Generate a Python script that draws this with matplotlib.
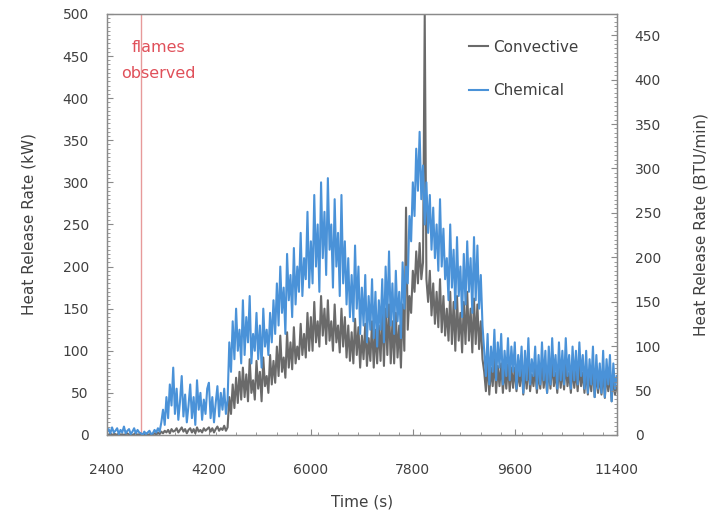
import numpy as np
import matplotlib.pyplot as plt
from matplotlib.ticker import MultipleLocator

plt.rcParams['font.family'] = ['DejaVu Sans']

# sampling grid, one reading every 30 s
time_s = np.arange(2400, 11401, 30)

# chemical heat release rate (kW), 20 readings per row
chemical = [
    4, 7, 2, 9, 3, 5, 8, 1, 6, 3, 10, 2, 5, 7, 1, 4, 8, 2, 6, 3,
    2, 0, 4, 1, 3, 5, 1, 2, 6, 3, 8, 4, 15, 30, 12, 45, 20, 60, 35, 80,
    25, 55, 18, 40, 70, 22, 48, 15, 35, 60, 20, 45, 12, 65, 30, 50, 18, 42, 25, 55,
    62, 20, 45, 15, 38, 58, 22, 50, 30, 55, 25, 42, 110, 75, 135, 90, 150, 100, 125, 85,
    160, 95, 140, 110, 165, 85, 120, 100, 145, 90, 130, 80, 150, 105, 125, 95, 145, 110, 160, 120,
    180, 130, 200, 145, 175, 120, 215, 160, 190, 140, 222, 155, 200, 170, 240, 165, 210, 185, 265, 175,
    230, 180, 285, 200, 250, 170, 300, 210, 265, 190, 305, 220, 250, 175, 280, 200, 240, 165, 285, 180,
    230, 155, 210, 140, 190, 135, 225, 150, 200, 120, 175, 130, 190, 110, 165, 125, 185, 115, 170, 105,
    160, 125, 185, 110, 200, 140, 218, 130, 180, 120, 195, 135, 170, 115, 205, 150, 200, 180, 260, 230,
    300, 260, 340, 290, 360, 280, 320, 250, 300, 240, 285, 220, 270, 210, 250, 195, 280, 200, 245, 185,
    210, 160, 250, 175, 220, 150, 235, 165, 200, 140, 215, 155, 230, 170, 210, 145, 235, 160, 225, 150,
    190, 130, 100, 70, 120, 60, 105, 75, 125, 65, 110, 80, 120, 60, 100, 70, 115, 65, 105, 75,
    110, 55, 95, 70, 105, 50, 100, 65, 115, 60, 90, 70, 105, 55, 95, 60, 110, 65, 100, 50,
    105, 60, 115, 70, 95, 55, 110, 65, 100, 60, 115, 70, 95, 55, 105, 65, 100, 60, 110, 70,
    95, 55, 100, 50, 90, 60, 105, 45, 95, 55, 85, 50, 100, 45, 90, 60, 95, 40, 85, 55,
    70,
]

# convective heat release rate (kW), 20 readings per row
convective = [
    1, 0, 2, 0, 1, 1, 0, 2, 0, 1, 0, 1, 2, 0, 1, 0, 1, 2, 0, 1,
    0, 1, 0, 2, 0, 1, 0, 1, 2, 0, 3, 1, 4, 2, 5, 3, 6, 2, 7, 4,
    5, 8, 3, 6, 9, 4, 7, 2, 6, 8, 3, 7, 2, 9, 4, 6, 3, 8, 5, 7,
    9, 4, 8, 3, 7, 10, 5, 8, 6, 11, 5, 9, 45, 25, 60, 32, 68, 38, 75, 42,
    80, 45, 72, 40, 90, 50, 65, 42, 88, 55, 75, 40, 92, 58, 70, 50, 95, 60, 88, 62,
    105, 70, 118, 75, 92, 68, 122, 80, 110, 78, 128, 85, 105, 90, 132, 95, 120, 92, 145, 100,
    140, 100, 158, 110, 135, 105, 165, 118, 150, 108, 160, 112, 135, 100, 155, 110, 130, 98, 150, 105,
    140, 92, 130, 88, 122, 85, 138, 95, 128, 80, 118, 90, 132, 82, 115, 88, 135, 80, 125, 85,
    130, 88, 148, 82, 150, 95, 155, 85, 135, 85, 145, 92, 130, 80, 155, 100, 270, 125, 165, 145,
    195, 170, 218, 180, 228, 185, 205, 500, 185, 158, 195, 142, 180, 132, 170, 128, 185, 122, 165, 118,
    150, 112, 170, 108, 158, 100, 165, 112, 145, 98, 158, 108, 170, 112, 150, 98, 162, 108, 155, 102,
    135, 90, 75, 52, 88, 48, 80, 58, 90, 50, 82, 58, 85, 50, 78, 55, 84, 52, 80, 56,
    80, 52, 75, 58, 82, 48, 78, 55, 85, 52, 72, 58, 80, 50, 75, 55, 84, 56, 76, 50,
    80, 55, 86, 58, 74, 50, 82, 56, 78, 54, 85, 58, 74, 50, 80, 56, 76, 52, 82, 58,
    74, 50, 78, 48, 72, 52, 80, 45, 74, 50, 70, 48, 76, 44, 72, 52, 74, 40, 70, 48,
    58,
]

flame_time = 3000
kw_to_btu = 0.9478

blue = '#4a92d8'
grey = '#6a6a6a'
red = '#e0505a'
text_col = '#404040'

fig = plt.figure(figsize=(7.13, 5.16), dpi=100)
ax = fig.add_axes([0.150, 0.157, 0.715, 0.816])

ax.axvline(flame_time, color='#e79a9a', lw=1.0, zorder=1)
ax.plot(time_s, convective, color=grey, lw=1.5, label='Convective', zorder=2)
ax.plot(time_s, chemical, color=blue, lw=1.5, label='Chemical', zorder=3)
ax.text(3310, 469, 'flames\nobserved', color=red, fontsize=11.5,
        ha='center', va='top', linespacing=1.9)

ax.set_xlim(2400, 11400)
ax.set_ylim(0, 500)
ax.set_xticks(np.arange(2400, 11401, 1800))
ax.set_yticks(np.arange(0, 501, 50))
ax.xaxis.set_minor_locator(MultipleLocator(360))
ax.yaxis.set_minor_locator(MultipleLocator(5))
ax.set_xlabel('Time (s)', fontsize=11, color=text_col, labelpad=13)
ax.set_ylabel('Heat Release Rate (kW)', fontsize=11, color=text_col, labelpad=18.5)

ax2 = ax.twinx()
ax2.set_ylim(0, 500 * kw_to_btu)
ax2.set_yticks(np.arange(0, 451, 50))
ax2.yaxis.set_minor_locator(MultipleLocator(5))
ax2.set_ylabel('Heat Release Rate (BTU/min)', fontsize=11, color=text_col,
               labelpad=23)

for a in (ax, ax2):
    a.tick_params(which='both', direction='in', colors='#8a8a8a',
                  labelcolor=text_col, labelsize=10)
    a.tick_params(which='major', length=4, width=0.8)
    a.tick_params(which='minor', length=2, width=0.6)
    for s in a.spines.values():
        s.set_color('#8a8a8a')
        s.set_linewidth(0.9)
ax.tick_params(axis='y', pad=13)
ax.tick_params(axis='x', pad=20)
ax2.tick_params(axis='y', pad=13)

ax.legend(loc='upper left', bbox_to_anchor=(0.696, 0.957), frameon=False,
          borderpad=0, handlelength=1.2, handletextpad=0.35, labelspacing=1.86,
          fontsize=11, labelcolor=text_col)

fig.savefig('out.png', dpi=100)
